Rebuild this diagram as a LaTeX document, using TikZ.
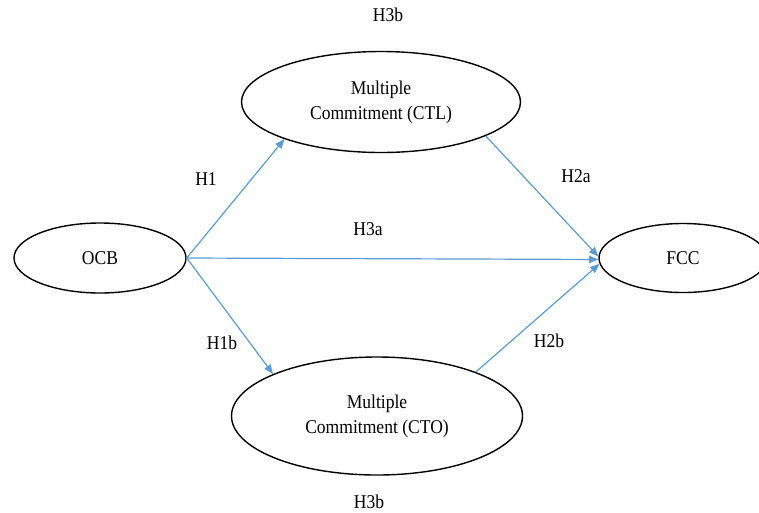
\documentclass[tikz,border=0pt]{standalone}
\usepackage{fontspec}
\setmainfont{Liberation Serif}[FakeStretch=0.9]
\usetikzlibrary{shapes.geometric,arrows.meta}
\definecolor{arrowblue}{RGB}{91,155,213}
\begin{document}
\begin{tikzpicture}[x=1pt,y=-1pt,
  construct/.style={draw=black, line width=1.4pt, ellipse, inner sep=0pt,
    font=\fontsize{19.5}{25}\selectfont, align=center},
  link/.style={draw=arrowblue, line width=1.2pt, -{Triangle[width=7.5pt,length=9.5pt]}},
  hlabel/.style={inner sep=0pt, font=\fontsize{19.5}{21}\selectfont}]
\useasboundingbox (0,0) rectangle (759,512);
\clip (0,0) rectangle (759,512);

\node[construct, minimum width=172pt, minimum height=70pt] (ocb) at (100,258) {OCB};
\node[construct, minimum width=279pt, minimum height=101pt] (ctl) at (381,102) {Multiple\\Commitment (CTL)};
\node[construct, minimum width=291pt, minimum height=118pt] (cto) at (377,416) {Multiple\\Commitment (CTO)};
\node[construct, minimum width=168pt, minimum height=69pt] (fcc) at (683,258) {FCC};

\draw[link] (ocb.east) -- (ctl.201);
\draw[link] (ocb.east) -- (fcc.181.5);
\draw[link] (ocb.east) -- (cto.158);
\draw[link] (ctl.342) -- (fcc.179);
\draw[link] (cto.24) -- (fcc.184.5);

\node[hlabel] (h3btop) at (388,15) {H3b};
\node[hlabel] (h1) at (206,179) {H1};
\node[hlabel] (h3a) at (368,229) {H3a};
\node[hlabel] (h2a) at (576,176) {H2a};
\node[hlabel] (h1b) at (222,343) {H1b};
\node[hlabel] (h2b) at (549,341) {H2b};
\node[hlabel] (h3bbot) at (369,502) {H3b};
\end{tikzpicture}
\end{document}
